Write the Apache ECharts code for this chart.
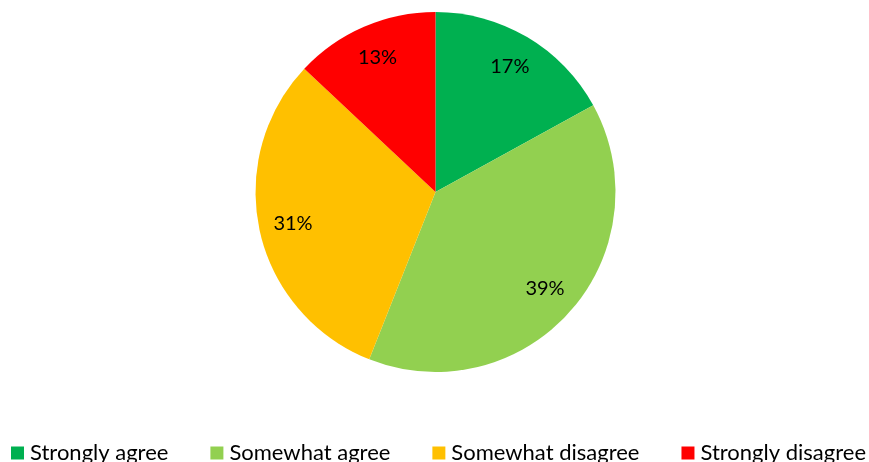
<!DOCTYPE html>
<html>
<head>
<meta charset="utf-8">
<script src="https://cdn.jsdelivr.net/npm/echarts@6/dist/echarts.min.js"></script>
<style>
  html, body { margin: 0; padding: 0; background: #fff; }
  #chart { width: 869px; height: 462px; }
</style>
</head>
<body>
<div id="chart"></div>
<script>
// Survey response shares (percent)
const categories = ['Strongly agree', 'Somewhat agree', 'Somewhat disagree', 'Strongly disagree'];
const shares = [17, 39, 31, 13];
const colors = ['#00B050', '#92D050', '#FFC000', '#FF0000'];

const FONT = 'Lato';
const center = [435.5, 192];
const R = 180;

const pieData = categories.map((name, i) => ({
  name,
  value: shares[i],
  itemStyle: { color: colors[i] }
}));

const chart = echarts.init(document.getElementById('chart'), null, { renderer: 'canvas' });
chart.setOption({
  animation: false,
  color: colors,
  legend: {
    data: categories,
    left: 11,
    top: 442,
    icon: 'rect',
    itemWidth: 13,
    itemHeight: 13,
    itemGap: 42,
    textStyle: { fontFamily: FONT, fontSize: 22, color: '#000', padding: [0, 0, 0, 1] },
    padding: 0
  },
  series: [
    {
      // filled wedges
      type: 'pie',
      center,
      radius: [0, R],
      startAngle: 90,
      clockwise: true,
      silent: true,
      label: { show: false },
      labelLine: { show: false },
      itemStyle: { borderWidth: 0 },
      data: pieData
    },
    {
      // percentage labels placed at ~0.8 of the radius
      type: 'pie',
      center,
      radius: [106, R],
      startAngle: 90,
      clockwise: true,
      silent: true,
      legendHoverLink: false,
      itemStyle: { color: 'rgba(0,0,0,0)', borderWidth: 0 },
      label: {
        show: true,
        position: 'inside',
        formatter: p => p.value + '%',
        fontFamily: FONT,
        fontSize: 20,
        color: '#000'
      },
      labelLine: { show: false },
      data: categories.map((name, i) => ({ name: name + ' ', value: shares[i] }))
    }
  ]
});
</script>
</body>
</html>
